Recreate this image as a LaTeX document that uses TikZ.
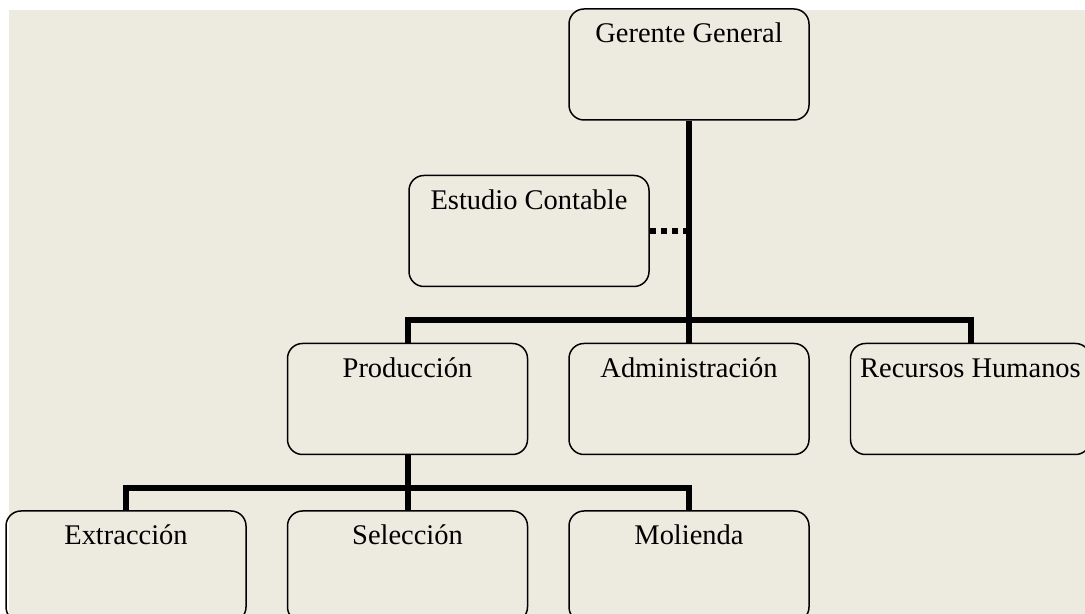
\documentclass[tikz,border=0pt]{standalone}
\usepackage{fontspec}
\setmainfont{Liberation Serif}
\usetikzlibrary{calc,positioning,backgrounds}
\definecolor{paper}{HTML}{EDEAE0}
\tikzset{orgbox/.style={draw=black,line width=0.85pt,rounded corners=0.3cm,minimum width=4.8cm,inner sep=0pt,text height=0.68cm,text depth=1.54cm,font=\fontsize{16.2}{19}\selectfont},
link/.style={line width=0.12cm},
dotlink/.style={line width=0.12cm,dash pattern=on 0.12cm off 0.1cm}}

\begin{document}
\begin{tikzpicture}[node distance=0.8cm and 0.8cm]

% Page and background
\useasboundingbox (0,0) rectangle (21.7,-12.28);
\fill[paper] (0.18,-0.2) rectangle (21.7,-12.28);

% Nodes
\node[orgbox] (gerente) at (13.78,-1.29) {Gerente General};
\node[orgbox] (estudio) at (10.58,-4.62) {Estudio Contable};
\node[orgbox, below=4.44cm of gerente] (administracion) {Administración};
\node[orgbox, left=of administracion] (produccion) {Producción};
\node[orgbox, right=of administracion] (recursos) {Recursos Humanos};
\node[orgbox, below=1.1cm of produccion] (seleccion) {Selección};
\node[orgbox, left=of seleccion] (extraccion) {Extracción};
\node[orgbox, right=of seleccion] (molienda) {Molienda};

% Bars
\coordinate (topbar) at ($(administracion.north)+(0,0.46)$);
\coordinate (lowbar) at ($(seleccion.north)+(0,0.44)$);

% Connectors
\draw[link] (gerente.south) -- (administracion.north);
\draw[link] (produccion.north) |- (topbar) -| (recursos.north);
\draw[link] (produccion.south) -- (seleccion.north);
\draw[link] (extraccion.north) |- (lowbar) -| (molienda.north);
\draw[dotlink] (estudio.east) -- (estudio.east -| gerente.south);

\end{tikzpicture}
\end{document}
